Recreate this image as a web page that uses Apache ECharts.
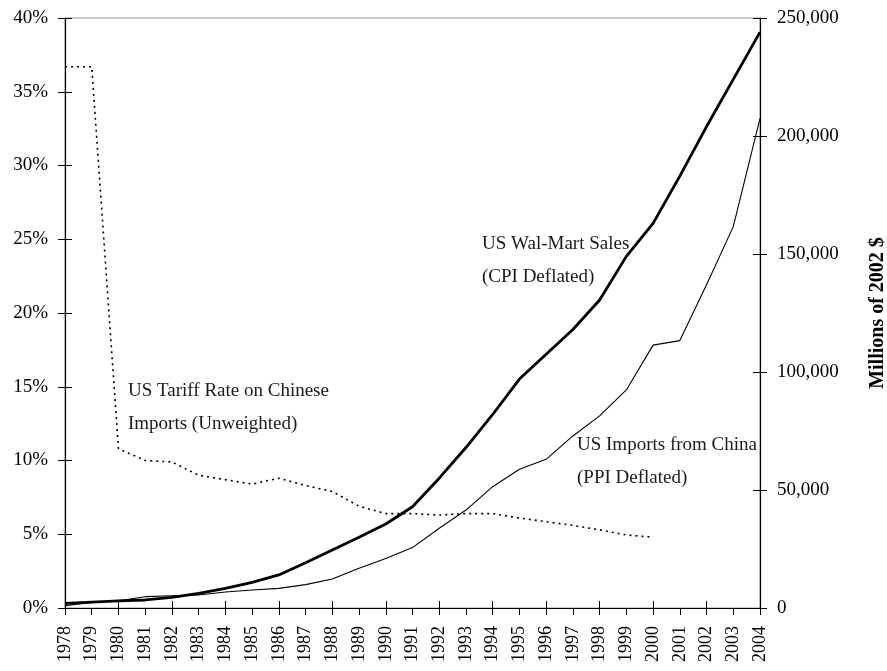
<!DOCTYPE html>
<html>
<head>
<meta charset="utf-8">
<script src="https://cdn.jsdelivr.net/npm/echarts@6/dist/echarts.min.js"></script>
<style>
  html, body { margin: 0; padding: 0; background: #fff; overflow: hidden; }
  #chart { width: 887px; height: 671px; }
</style>
</head>
<body>
<div id="chart"></div>
<script>
// Years on the horizontal axis
const years = ['1978','1979','1980','1981','1982','1983','1984','1985','1986','1987',
  '1988','1989','1990','1991','1992','1993','1994','1995','1996','1997','1998','1999',
  '2000','2001','2002','2003','2004'];

// US tariff rate on Chinese imports, unweighted (%), series ends in 2000
const tariffRate = [36.7, 36.7, 10.8, 10.0, 9.9, 9.0, 8.7, 8.4, 8.8, 8.3, 7.9, 6.9, 6.4,
  6.4, 6.3, 6.4, 6.4, 6.1, 5.85, 5.6, 5.3, 4.95, 4.8];

// US Wal-Mart sales, CPI deflated (millions of 2002 $)
const walmartSales = [2000, 2500, 3000, 3400, 4500, 6200, 8300, 10900, 14000, 19200,
  24600, 30000, 35600, 42900, 55000, 68000, 82000, 97000, 107500, 118000, 130500,
  149000, 163000, 183000, 204000, 224000, 244000];

// US imports from China, PPI deflated (millions of 2002 $)
const chinaImports = [1000, 2300, 3100, 4800, 5200, 5500, 6800, 7600, 8300, 9900,
  12300, 16800, 21000, 25600, 33800, 41500, 51400, 58800, 63000, 72900, 81400,
  92400, 111400, 113300, 137000, 161600, 207500];

// Tick ranges for the two value axes
const pctTicks = { min: 0, max: 40, step: 5 };
const valTicks = { min: 0, max: 250000, step: 50000 };

const FONT = '"Liberation Serif", "Times New Roman", serif';
const chart = echarts.init(document.getElementById('chart'), null, { renderer: 'canvas' });

// Ticks cross the axis lines: one axis draws them outward, a twin axis inward
const tickOut = { show: true, inside: false, length: 7, lineStyle: { color: '#000', width: 1 } };
const tickIn = { show: true, inside: true, length: 7, lineStyle: { color: '#000', width: 1 } };
const blackLine = { show: true, lineStyle: { color: '#000', width: 1.2 } };

const annotations = [
  ['US Tariff Rate on Chinese', 128, 393],
  ['Imports (Unweighted)', 128, 426],
  ['US Wal-Mart Sales', 482, 246],
  ['(CPI Deflated)', 482, 279],
  ['US Imports from China', 577, 447],
  ['(PPI Deflated)', 577, 480]
];

chart.setOption({
  animation: false,
  backgroundColor: '#fff',
  grid: {
    left: 65, right: 127, top: 18, bottom: 63,
    outerBoundsMode: 'none', containLabel: false,
    show: true, borderColor: '#999', borderWidth: 1
  },
  xAxis: [
    {
      type: 'category', data: years, boundaryGap: false, position: 'bottom',
      axisLine: blackLine, axisTick: tickOut,
      axisLabel: { rotate: 90, margin: 18, color: '#000', fontFamily: FONT, fontSize: 18 },
      splitLine: { show: false }
    },
    {
      type: 'category', data: years, boundaryGap: false, position: 'bottom',
      axisLine: { show: false }, axisTick: tickIn, axisLabel: { show: false },
      splitLine: { show: false }
    }
  ],
  yAxis: [
    {
      type: 'value', position: 'left', min: pctTicks.min, max: pctTicks.max, interval: pctTicks.step,
      axisLine: blackLine, axisTick: tickOut,
      axisLabel: { margin: 17, color: '#000', fontFamily: FONT, fontSize: 19, formatter: v => v + '%' },
      splitLine: { show: false }
    },
    {
      type: 'value', position: 'right', min: valTicks.min, max: valTicks.max, interval: valTicks.step,
      axisLine: blackLine, axisTick: tickOut,
      axisLabel: {
        margin: 17, color: '#000', fontFamily: FONT, fontSize: 19,
        formatter: v => v.toLocaleString('en-US')
      },
      name: 'Millions of 2002 $', nameLocation: 'middle', nameGap: 108, nameRotate: 90,
      nameTextStyle: { color: '#000', fontFamily: FONT, fontSize: 20, fontWeight: 'bold' },
      splitLine: { show: false }
    },
    {
      type: 'value', position: 'left', min: pctTicks.min, max: pctTicks.max, interval: pctTicks.step,
      axisLine: { show: false }, axisTick: tickIn, axisLabel: { show: false }, splitLine: { show: false }
    },
    {
      type: 'value', position: 'right', min: valTicks.min, max: valTicks.max, interval: valTicks.step,
      axisLine: { show: false }, axisTick: tickIn, axisLabel: { show: false }, splitLine: { show: false }
    }
  ],
  series: [
    {
      name: 'US Tariff Rate on Chinese Imports (Unweighted)', type: 'line',
      xAxisIndex: 0, yAxisIndex: 0, data: tariffRate, showSymbol: false,
      lineStyle: { color: '#000', width: 1.6, type: [2, 4] }, z: 3
    },
    {
      name: 'US Wal-Mart Sales (CPI Deflated)', type: 'line',
      xAxisIndex: 0, yAxisIndex: 1, data: walmartSales, showSymbol: false,
      lineStyle: { color: '#000', width: 2.8 }, z: 4
    },
    {
      name: 'US Imports from China (PPI Deflated)', type: 'line',
      xAxisIndex: 0, yAxisIndex: 1, data: chinaImports, showSymbol: false,
      lineStyle: { color: '#000', width: 1.1 }, z: 4
    }
  ],
  graphic: annotations.map(([text, x, y]) => ({
    type: 'text', left: x, top: y - 11,
    style: { text: text, fill: '#1a1a1a', font: '19px ' + FONT }
  }))
});
</script>
</body>
</html>
